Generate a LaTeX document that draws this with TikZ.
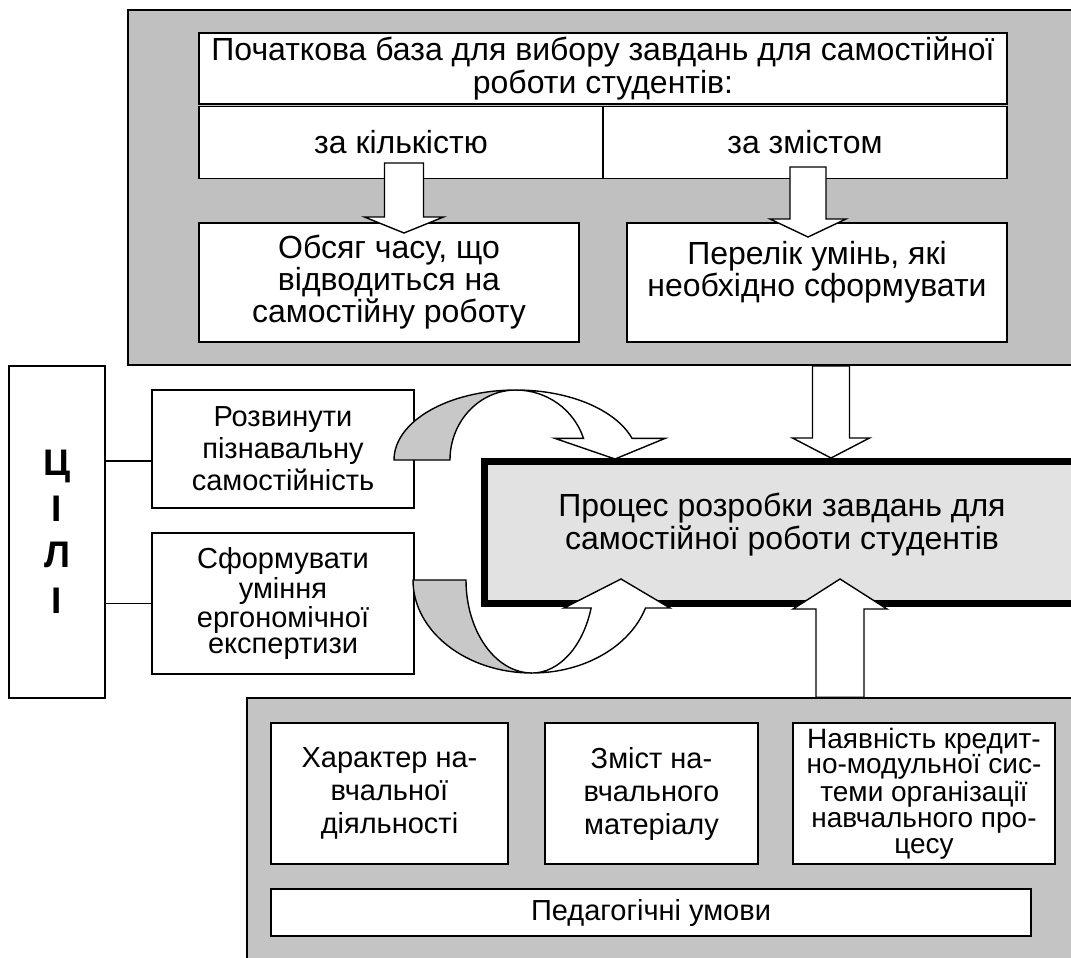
\documentclass[tikz,border=0pt]{standalone}
\usepackage{fontspec}
\setmainfont{Liberation Sans}
\usetikzlibrary{calc}
\definecolor{panelgray}{RGB}{192,192,192}
\definecolor{procgray}{RGB}{226,226,226}
\definecolor{umovgray}{RGB}{196,196,196}
\definecolor{bandgray}{RGB}{200,200,200}
% block arrow: tail, tip, shaft half width, head half width, head base offset
\newcommand{\varrow}[5]{\draw[blokarr] (#2) -- ($(#2)+(-#4,#5)$) -- ($(#2)+(-#3,#5)$)
     -- ($(#1)+(-#3,0)$) -- ($(#1)+(#3,0)$) -- ($(#2)+(#3,#5)$) -- ($(#2)+(#4,#5)$) -- cycle;}
\newcommand{\fsz}[2]{\fontsize{#1}{#2}\selectfont}

\begin{document}
\begin{tikzpicture}[x=0.5pt,y=-0.5pt,
   blok/.style={draw=black,line width=0.8pt,fill=white,align=center,inner sep=0pt},
   panel/.style={draw=black,line width=0.8pt},
   blokarr/.style={draw=black,line width=0.7pt,fill=white,line join=miter},
   band/.style={draw=black,line width=0.7pt,fill=bandgray},
   zv/.style={draw=black,line width=0.7pt}]
 \useasboundingbox (0,0) rectangle (1071,958);

 % upper panel
 \draw (604,187.5) node[panel,fill=panelgray,minimum width=476pt,minimum height=177.5pt] (baza) {};
 \draw (603,68.5) node[blok,minimum width=404pt,minimum height=35.5pt,font=\fsz{16}{16.5}] (pochatok)
      {Початкова база для вибору завдань для самостійної\\роботи студентів:};
 \draw (401,142.5) node[blok,minimum width=202pt,minimum height=36pt,font=\fsz{16}{16.5}] (kilk)
      {за кількістю};
 \draw (805,142.5) node[blok,minimum width=202pt,minimum height=36pt,font=\fsz{16}{16.5}] (zmist)
      {за змістом};
 \draw (389,282.5) node[blok,minimum width=190pt,minimum height=59.5pt,font=\fsz{16}{14}] (obsyag)
      {Обсяг часу, що\\відводиться на\\самостійну роботу};
 \draw (817,282.5) node[blok,minimum width=190pt,minimum height=59.5pt,font=\fsz{16}{14}] (perelik)
      {Перелік умінь, які\\необхідно сформувати\\~};

 % goals
 \draw (57,532) node[blok,minimum width=48pt,minimum height=166pt,font=\bfseries\fsz{18.5}{23}] (cili)
      {Ц\\І\\Л\\І};
 \draw (283,449) node[blok,minimum width=131pt,minimum height=59pt,font=\fsz{14.5}{16}] (rozv)
      {Розвинути\\пізнавальну\\самостійність};
 \draw (283,603.5) node[blok,minimum width=131pt,minimum height=70.5pt,font=\fsz{14.5}{13}] (sform)
      {Сформувати\\уміння\\ергономічної\\експертизи};
 \coordinate (l1) at ([yshift=-6pt]rozv.west);
 \draw[zv] (l1) -- (l1 -| cili.east);
 \draw[zv] (sform.west) -- (sform.west -| cili.east);

 % process
 \draw (784,532.5) node[draw=black,line width=3.5pt,fill=procgray,minimum width=299.5pt,
      minimum height=71pt] (proces) {};
 \node[align=center,font=\fsz{16}{16.5}] (procestext) at ([xshift=-1pt,yshift=4pt]proces.center)
      {Процес розробки завдань для\\самостійної роботи студентів};

 % lower panel
 \draw (663.5,834) node[panel,fill=umovgray,minimum width=416.5pt,minimum height=136pt] (umovpanel) {};
 \draw (389.5,793.5) node[blok,minimum width=118.5pt,minimum height=70.5pt,font=\fsz{14.5}{16.5}] (kharakter)
      {Характер на-\\вчальної\\діяльності};
 \draw (651.5,793.5) node[blok,minimum width=106.5pt,minimum height=70.5pt,font=\fsz{14.5}{16.5}] (zmistnav)
      {Зміст на-\\вчального\\матеріалу};
 \draw (924,793.5) node[blok,minimum width=131pt,minimum height=70.5pt,font=\fsz{14}{12.8}] (kredyt)
      {Наявність кредит-\\но-модульної сис-\\теми організації\\навчального про-\\цесу};
 \draw (651,912.5) node[blok,minimum width=380pt,minimum height=23.5pt,font=\fsz{14.5}{16}] (pedumovy)
      {Педагогічні умови};

 % straight arrows
 \coordinate (aT1) at (404,163);  \coordinate (aH1) at (404,233);
 \coordinate (aT2) at (808,167);  \coordinate (aH2) at (808,237);
 \coordinate (aH3) at (831,458);  \coordinate (aT3) at (baza.south -| aH3);
 \coordinate (aH4) at (840,579);  \coordinate (aT4) at (umovpanel.north -| aH4);
 \varrow{aT1}{aH1}{19.5}{39.5}{-16}
 \varrow{aT2}{aH2}{18}{38}{-18}
 \varrow{aT3}{aH3}{18.5}{38.5}{-20}
 \varrow{aT4}{aH4}{24}{47}{30}

 % curved arrows
 \draw[band] (394,460) arc[start angle=180,end angle=270,x radius=122,y radius=70]
      arc[start angle=270,end angle=180,x radius=66,y radius=70] -- cycle;
 \draw[blokarr] (516,390) arc[start angle=270,end angle=342,x radius=122,y radius=70]
      -- (665,438.4) -- (615,459) -- (555,438.4) -- (583.5,438.4)
      arc[start angle=342,end angle=270,x radius=71,y radius=70] -- cycle;
 \draw[band] (413,580) arc[start angle=180,end angle=90,x radius=119,y radius=93]
      arc[start angle=90,end angle=180,x radius=66,y radius=93] -- cycle;
 \draw[blokarr] (532,673) arc[start angle=90,end angle=17.5,x radius=119,y radius=93]
      -- (670,608) -- (621,579) -- (564,608) -- (591.1,608)
      arc[start angle=17.5,end angle=90,x radius=62,y radius=93] -- cycle;
\end{tikzpicture}
\end{document}
